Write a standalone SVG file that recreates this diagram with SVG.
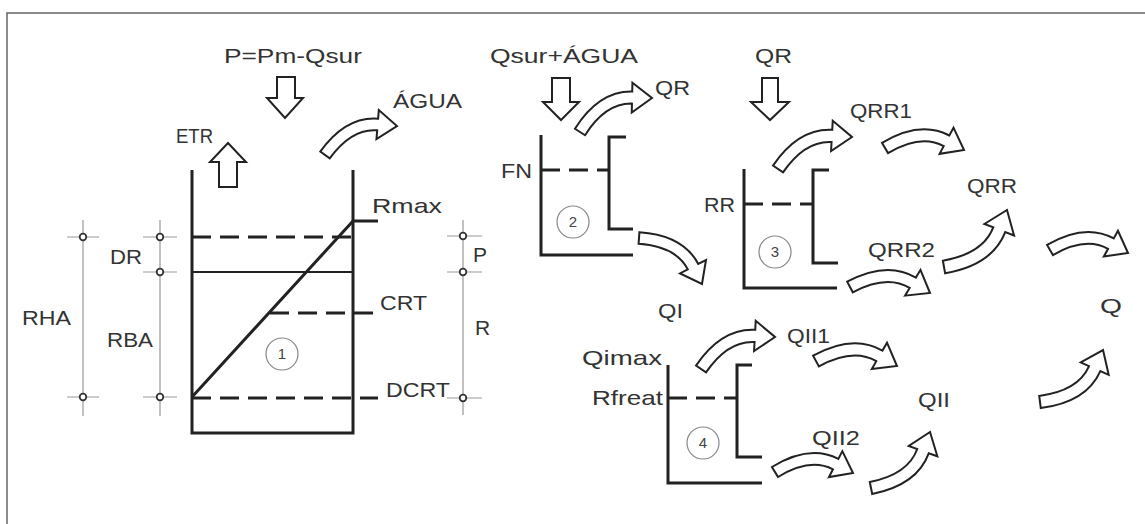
<svg xmlns="http://www.w3.org/2000/svg" xmlns:xlink="http://www.w3.org/1999/xlink" width="1145" height="524" viewBox="0 0 1145 524">
<style>
.t{font-family:"Liberation Sans",Arial,sans-serif;font-size:21px;fill:#333}
.n{font-family:"Liberation Sans",Arial,sans-serif;font-size:15px;fill:#444;text-anchor:middle}
.w{fill:none;stroke:#222;stroke-width:3}
.thin{fill:none;stroke:#222;stroke-width:2}
.d{fill:none;stroke:#222;stroke-width:3;stroke-dasharray:19 9}
.dim{fill:none;stroke:#999;stroke-width:1.2}
.dot{fill:#fff;stroke:#333;stroke-width:1.8}
.c{fill:none;stroke:#888;stroke-width:1.2}
.ar{fill:#fff;stroke:#222;stroke-width:2;stroke-linejoin:miter}
.cv{fill:#fff;stroke:#222;stroke-width:2;vector-effect:non-scaling-stroke}
</style>
<defs>
<path id="ca" class="cv" d="M-3.2,-5.1 Q34.9,-29.2 64.8,-14.3 L68.8,-22.3 L80,0 L55.4,4.5 L59.4,-3.5 Q35.6,-15.4 3.2,5.1 Z"/>
</defs>
<rect width="1145" height="524" fill="#fff"/>
<path id="frame" d="M7,524 V13 H1145" fill="none" stroke="#666" stroke-width="1.5"/>

<g id="dims">
<path class="dim" d="M83,220 V416 M67,237 H99 M67,397 H99"/>
<path class="dim" d="M160,220 V416 M143,237 H177 M143,272 H177 M143,397 H177"/>
<path class="dim" d="M463,220 V415 M447,236 H482 M447,272 H482 M447,398 H482"/>
<circle class="dot" cx="83" cy="237" r="3.3"/><circle class="dot" cx="83" cy="397" r="3.3"/>
<circle class="dot" cx="160" cy="237" r="3.3"/><circle class="dot" cx="160" cy="272" r="3.3"/><circle class="dot" cx="160" cy="397" r="3.3"/>
<circle class="dot" cx="463" cy="236" r="3.3"/><circle class="dot" cx="463" cy="272" r="3.3"/><circle class="dot" cx="463" cy="398" r="3.3"/>
<text class="t" x="22" y="325" textLength="49" lengthAdjust="spacingAndGlyphs">RHA</text>
<text class="t" x="110" y="264" textLength="32" lengthAdjust="spacingAndGlyphs">DR</text>
<text class="t" x="107" y="347" textLength="46" lengthAdjust="spacingAndGlyphs">RBA</text>
<text class="t" x="473" y="262">P</text>
<text class="t" x="475" y="335">R</text>
</g>

<g id="tank1">
<path class="w" d="M192,170 V433 H353 V170"/>
<path class="w" d="M192,397 L353,221 M353,221 H378"/>
<path class="d" d="M192,237 H353"/>
<path class="thin" d="M192,272 H353"/>
<path class="d" d="M270,313 H378"/>
<path class="d" d="M192,398 H378"/>
<circle class="c" cx="282" cy="354" r="16"/>
<text class="n" x="282" y="359">1</text>
<text class="t" x="372" y="213" textLength="70" lengthAdjust="spacingAndGlyphs">Rmax</text>
<text class="t" x="380" y="310" textLength="47" lengthAdjust="spacingAndGlyphs">CRT</text>
<text class="t" x="386" y="397" textLength="64" lengthAdjust="spacingAndGlyphs">DCRT</text>
<text class="t" x="224" y="63" textLength="138" lengthAdjust="spacingAndGlyphs">P=Pm-Qsur</text>
<text class="t" x="176" y="143" textLength="37" lengthAdjust="spacingAndGlyphs">ETR</text>
<text class="t" x="393" y="108" textLength="69" lengthAdjust="spacingAndGlyphs">ÁGUA</text>
</g>

<g id="tank2">
<path class="w" d="M541,135 V255 H633 M626,137 H609 V229 H633"/>
<path class="d" d="M541,170 H609"/>
<circle class="c" cx="573" cy="222" r="16"/>
<text class="n" x="573" y="227">2</text>
<text class="t" x="490" y="63" textLength="148" lengthAdjust="spacingAndGlyphs">Qsur+ÁGUA</text>
<text class="t" x="655" y="95" textLength="35" lengthAdjust="spacingAndGlyphs">QR</text>
<text class="t" x="501" y="178" textLength="31" lengthAdjust="spacingAndGlyphs">FN</text>
<text class="t" x="658" y="318" textLength="25" lengthAdjust="spacingAndGlyphs">QI</text>
</g>

<g id="tank3">
<path class="w" d="M744,169 V288 H837 M829,170 H813 V263 H838"/>
<path class="d" d="M744,204 H813"/>
<circle class="c" cx="775" cy="252" r="16"/>
<text class="n" x="775" y="257">3</text>
<text class="t" x="755" y="63" textLength="37" lengthAdjust="spacingAndGlyphs">QR</text>
<text class="t" x="704" y="212" textLength="31" lengthAdjust="spacingAndGlyphs">RR</text>
<text class="t" x="850" y="118" textLength="62" lengthAdjust="spacingAndGlyphs">QRR1</text>
<text class="t" x="868" y="257" textLength="67" lengthAdjust="spacingAndGlyphs">QRR2</text>
<text class="t" x="967" y="193" textLength="50" lengthAdjust="spacingAndGlyphs">QRR</text>
<text class="t" x="1100" y="313" textLength="22" lengthAdjust="spacingAndGlyphs">Q</text>
</g>

<g id="tank4">
<path class="w" d="M668,365 V483 H762 M752,365 H737 V457 H762"/>
<path class="d" d="M668,398 H737"/>
<circle class="c" cx="703" cy="443" r="16"/>
<text class="n" x="703" y="448">4</text>
<text class="t" x="582" y="365" textLength="80" lengthAdjust="spacingAndGlyphs">Qimax</text>
<text class="t" x="592" y="405" textLength="71" lengthAdjust="spacingAndGlyphs">Rfreat</text>
<text class="t" x="787" y="343" textLength="43" lengthAdjust="spacingAndGlyphs">QII1</text>
<text class="t" x="812" y="445" textLength="48" lengthAdjust="spacingAndGlyphs">QII2</text>
<text class="t" x="918" y="407" textLength="32" lengthAdjust="spacingAndGlyphs">QII</text>
</g>

<g id="connectors">
<path class="ar" d="M277,77 H295 V98 H303 L285,118 L267,98 H277 Z"/>
<path class="ar" d="M219,187 V162 H210 L228,143 L246,162 H237 V187 Z"/>
<path class="ar" d="M552,78 H570 V102 H579 L561,120 L543,102 H552 Z"/>
<path class="ar" d="M762,78 H778 V102 H789 L770,120 L751,102 H762 Z"/>
<use xlink:href="#ca" transform="translate(325,155) rotate(-21.94) scale(0.970)"/>
<use xlink:href="#ca" transform="translate(580,132) rotate(-25.27) scale(0.995)"/>
<use xlink:href="#ca" transform="translate(639,238) rotate(36.14) scale(0.975)"/>
<use xlink:href="#ca" transform="translate(778,169) rotate(-23.39) scale(1.008)"/>
<use xlink:href="#ca" transform="translate(885,148) rotate(1.45) scale(0.988)"/>
<use xlink:href="#ca" transform="translate(944,267) rotate(-42.14) scale(1.062,-1.062)"/>
<use xlink:href="#ca" transform="translate(850,287) rotate(4.29) scale(1.003)"/>
<use xlink:href="#ca" transform="translate(1050,250) rotate(2.2) scale(0.976)"/>
<use xlink:href="#ca" transform="translate(701,369) rotate(-23.39) scale(1.008)"/>
<use xlink:href="#ca" transform="translate(816,361) rotate(3.53) scale(1.014)"/>
<use xlink:href="#ca" transform="translate(775,472) rotate(0.73) scale(0.975)"/>
<use xlink:href="#ca" transform="translate(871,488) rotate(-43.5) scale(1.017,-1.017)"/>
<use xlink:href="#ca" transform="translate(1040,402) rotate(-39.5) scale(1.021,-1.021)"/>
</g>
</svg>
